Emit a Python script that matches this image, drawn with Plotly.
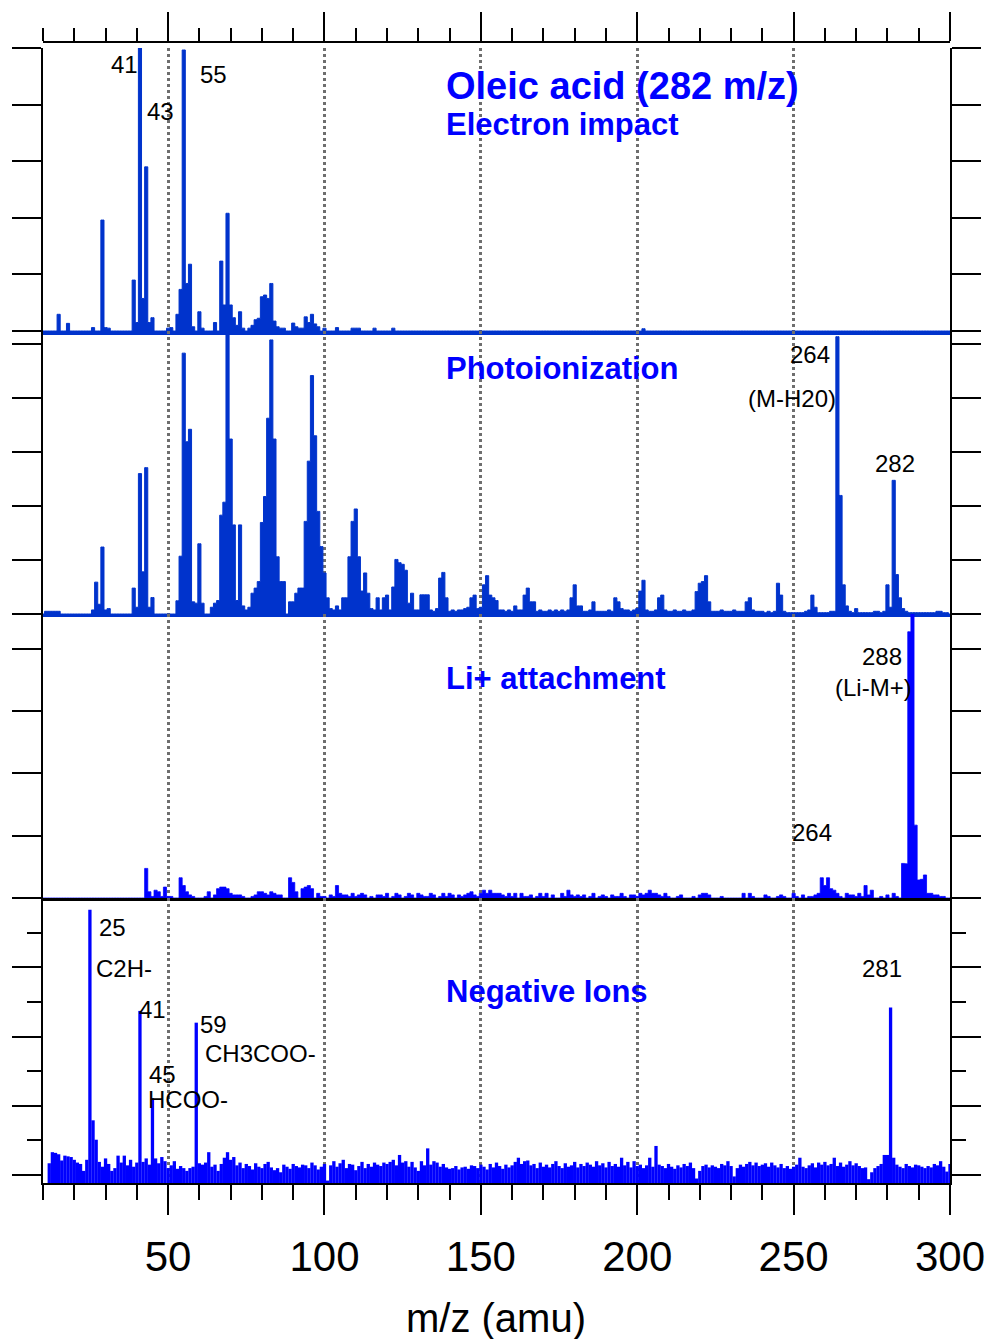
import plotly.graph_objects as go

# ---------------- m/z axis ----------------
MZ_MIN, MZ_MAX = 10, 300

# ---------------- Electron impact ----------------
ei_mz = [15, 18, 26, 29, 30, 31, 39, 40, 41, 42,
         43, 44, 45, 50, 51, 53, 54, 55, 56, 57,
         58, 60, 61, 65, 67, 68, 69, 70, 71, 72,
         73, 74, 76, 77, 78, 79, 80, 81, 82, 83,
         84, 85, 86, 87, 90, 91, 92, 93, 94, 95,
         96, 97, 98, 100, 104, 109, 110, 111, 116, 122,
         202]
ei_int = [5.9, 2.7, 1.2, 39.2, 1.2, 1.0, 18.0, 3.0, 100.0, 11.5,
          58.0, 3.0, 4.7, 1.0, 1.2, 5.9, 14.7, 99.3, 16.8, 23.6,
          1.5, 6.8, 1.0, 3.0, 24.7, 9.2, 41.6, 9.2, 4.7, 2.0,
          6.8, 1.0, 1.0, 2.0, 4.0, 4.5, 12.1, 12.7, 11.5, 16.8,
          3.5, 1.5, 1.0, 1.0, 2.8, 1.5, 1.0, 1.0, 5.0, 3.0,
          5.9, 2.5, 1.5, 1.0, 1.2, 1.0, 1.0, 1.0, 1.0, 1.0,
          0.8]

# ---------------- Photoionization ----------------
pi_mz = [11, 12, 13, 14, 15, 26, 27, 28, 29, 30,
         31, 39, 40, 41, 42, 43, 44, 45, 53, 54,
         55, 56, 57, 58, 59, 60, 61, 64, 65, 66,
         67, 68, 69, 70, 71, 72, 73, 74, 75, 76,
         77, 78, 79, 80, 81, 82, 83, 84, 85, 86,
         87, 89, 90, 91, 92, 93, 94, 95, 96, 97,
         98, 99, 100, 101, 104, 106, 107, 108, 109, 110,
         111, 112, 113, 114, 117, 119, 120, 122, 123, 124,
         125, 126, 127, 128, 131, 132, 133, 137, 138, 139,
         147, 148, 151, 152, 153, 154, 155, 161, 164, 165,
         166, 167, 179, 180, 181, 182, 186, 193, 194, 201,
         202, 207, 208, 219, 220, 221, 222, 223, 235, 236,
         245, 246, 256, 257, 264, 265, 266, 267, 270, 280,
         281, 282, 283, 284, 285, 296]
pi_int = [1.0, 1.0, 1.0, 1.0, 1.0, 1.5, 11.8, 3.6, 24.8, 1.5,
          2.0, 9.6, 2.5, 52.0, 15.6, 54.2, 2.5, 6.1, 4.9, 21.4,
          96.6, 63.8, 68.4, 4.5, 4.0, 26.0, 4.0, 2.5, 4.0, 5.0,
          36.6, 41.4, 108.0, 64.8, 33.0, 5.0, 33.0, 3.0, 1.5, 2.5,
          7.7, 9.6, 12.0, 33.9, 43.5, 72.5, 101.5, 64.8, 21.2, 12.0,
          12.0, 4.5, 4.5, 7.7, 9.6, 9.6, 34.3, 56.6, 88.3, 66.0,
          38.0, 25.0, 15.2, 6.0, 3.0, 6.0, 6.0, 21.2, 34.3, 38.9,
          21.2, 8.5, 15.2, 7.7, 6.0, 6.0, 7.0, 10.0, 20.2, 19.0,
          18.4, 16.2, 4.0, 7.7, 7.1, 7.1, 7.1, 13.3, 15.4, 6.0,
          6.0, 7.0, 10.8, 14.2, 7.0, 6.0, 5.0, 3.0, 7.0, 9.6,
          4.5, 4.5, 6.0, 10.8, 3.0, 3.0, 4.5, 6.0, 4.5, 8.5,
          12.5, 6.0, 7.0, 8.3, 11.4, 12.0, 14.2, 4.5, 4.5, 6.0,
          11.4, 7.0, 7.0, 2.5, 102.7, 43.9, 10.8, 3.0, 2.0, 10.8,
          2.5, 49.5, 14.6, 6.0, 2.0, 1.0]
PI_FLOOR_START = 100
pi_floor = [3, 2.5, 2, 1.5, 2, 1.5, 3, 3, 2.5, 2.5,           # 100
            2, 2.5, 2, 2, 1.5, 2, 1.5, 2, 1.5, 2,             # 110
            2.5, 1.5, 2, 2.5, 2, 1.5, 2, 1.5, 2, 1.5,         # 120
            1.5, 2, 2.5, 2, 1.5, 1, 2, 2.5, 2, 1.5,           # 130
            1, 1.5, 1, 1.5, 1.5, 2, 2.5, 2, 2.5, 2,           # 140
            2.5, 3, 2.5, 3, 2.5, 2, 1.5, 1.5, 1, 1.5,         # 150
            1, 2.5, 1.5, 1.5, 2, 2.5, 2, 1.5, 1, 1.5,         # 160
            1, 1, 1.5, 1, 1.5, 1, 1.5, 1, 1.5, 1.5,           # 170
            2, 2.5, 1.5, 1, 1, 1.5, 2, 1, 1, 1,               # 180
            1, 1.5, 1, 1.5, 2, 2, 1.5, 1.5, 1, 1.5,           # 190
            2, 2, 2.5, 1.5, 1, 1, 1.5, 2, 2, 1.5,             # 200
            1, 1, 1.5, 1, 1, 1.5, 1, 1, 1.5, 2,               # 210
            2.5, 2.5, 2, 1.5, 1, 1, 1, 1.5, 1, 1,             # 220
            1, 1.5, 1, 1, 1, 1.5, 2, 1.5, 1, 1,               # 230
            1, 0.5, 1, 0.5, 1, 1.5, 1.5, 1, 0.5, 0.5,         # 240
            0.5, 0.5, 0.5, 0.5, 1, 1.5, 1.5, 1, 0.5, 0.5,     # 250
            0.5, 0.5, 1, 1, 0, 0, 1.5, 1.5, 1, 0.5,           # 260
            1, 0.5, 0.5, 0.5, 0.5, 0.5, 1, 1, 0.5, 1,         # 270
            0, 1, 0, 0, 0, 1.5, 1, 0.5, 0.5, 0.5,             # 280
            0.5, 0.5, 0.5, 0.5, 0.5, 0.5, 0.5, 1, 0.5, 0.5,   # 290
            0]                                                # 300

# ---------------- Li+ attachment ----------------
li_mz = [43, 44, 46, 47, 49, 54, 55, 56, 63, 66,
         67, 68, 69, 79, 80, 81, 83, 89, 90, 91,
         93, 94, 95, 96, 104, 259, 260, 261, 262, 263,
         273, 275, 282, 285, 286, 287, 288, 289, 290, 291,
         292, 293, 294, 295]
li_int = [9.5, 2.0, 2.5, 2.0, 3.5, 6.5, 4.0, 2.0, 2.0, 3.0,
          3.5, 3.5, 3.0, 2.0, 2.0, 1.5, 2.0, 6.5, 5.0, 2.0,
          3.0, 3.5, 4.0, 3.0, 4.0, 6.5, 4.0, 6.5, 3.0, 2.5,
          4.0, 2.5, 1.5, 11.1, 11.0, 85.5, 100.0, 23.4, 5.8, 6.0,
          7.4, 1.5, 1.5, 1.0]
LI_FLOOR_START = 40
li_floor = [0, 0, 0, 0, 0, 0.5, 0, 0, 0.5, 0,                 # 40
            0.5, 0.5, 0, 0, 0, 0, 0, 1, 0.5, 0,               # 50
            0, 0, 0.5, 0, 0, 1, 0, 0, 0, 0,                   # 60
            1.5, 1, 1, 1, 0.5, 0, 0, 0.5, 1, 0,               # 70
            0, 0.5, 1, 0, 1.5, 1, 1, 0, 0, 0,                 # 80
            0, 0, 0, 2, 1.5, 0, 0, 0, 1.5, 0.5,               # 90
            0.5, 0, 1, 0.5, 0, 1.5, 1, 1, 0.5, 1.5,           # 100
            0.5, 1, 1.5, 1, 0, 0.5, 0, 1, 1, 0.5,             # 110
            1.5, 0, 0.5, 1.5, 1, 0, 0.5, 1.5, 1, 0,           # 120
            1.5, 1, 0.5, 0.5, 1.5, 1, 0, 0.5, 1.5, 0.5,       # 130
            1.5, 1, 0, 1, 0.5, 1, 1.5, 2, 1, 0.5,             # 140
            1.5, 2.5, 1.5, 2.5, 1.5, 1.5, 1.5, 1, 0.5, 1.5,   # 150
            0.5, 1.5, 0, 1.5, 0.5, 0.5, 1, 0, 0.5, 1.5,       # 160
            0.5, 1.5, 0, 1, 0, 0, 1.5, 0.5, 2.5, 1,           # 170
            0.5, 1, 0.5, 1, 0, 0.5, 1.5, 0, 0.5, 1,           # 180
            0.5, 0, 1, 0.5, 0.5, 1.5, 0.5, 0, 1, 1,           # 190
            0.5, 1.5, 1, 1.5, 2.5, 1.5, 1.5, 1, 0.5, 1.5,     # 200
            0.5, 0, 0, 0.5, 1, 0, 0, 0, 0.5, 0,               # 210
            1, 1.5, 1.5, 1, 0, 0, 0, 0.5, 0, 0,               # 220
            0, 0, 0, 0, 1.5, 0, 1.5, 0.5, 0, 0,               # 230
            0, 1, 0.5, 0, 0, 0.5, 1, 0.5, 0, 0,               # 240
            1.5, 0.5, 0, 1, 0, 0.5, 0.5, 1, 1.5, 0,           # 250
            0, 0, 0, 0, 1.5, 0.5, 0, 1.5, 1, 1,               # 260
            0.5, 1.5, 0.5, 0, 1, 0, 0, 0, 0.5, 0,             # 270
            1, 0, 1, 0.5, 0, 0, 0, 0, 0, 0,                   # 280
            0, 0, 0, 0, 0, 0.5, 1, 0.5, 0.5, 0,               # 290
            0]                                                # 300

# ---------------- Negative ions ----------------
neg_mz = [25, 26, 27, 41, 45, 59, 133, 206, 280, 281, 282]
neg_int = [38.3, 7.9, 5.1, 23.7, 11.1, 22.0, 3.85, 4.2, 2.9, 24.2, 2.5]
NEG_FLOOR_START = 12
neg_floor = [1.7, 3.3, 3.2, 3.0, 2.1, 2.8, 2.7, 2.6, 2.2, 1.8,      # 12
             1.6, 0.6, 2.2, 2.0, 2.5, 1.8, 1.9, 1.2, 2.4, 1.6,      # 22
             0.6, 1.0, 2.8, 1.8, 2.8, 1.4, 2.2, 1.2, 1.8, 1.4,      # 32
             1.9, 2.4, 1.5, 2.0, 2.4, 1.7, 2.6, 2.0, 1.0, 1.4,      # 42
             2.0, 0.9, 1.3, 1.0, 0.6, 1.0, 1.2, 1.4, 1.7, 1.5,      # 52
             1.8, 3.3, 1.2, 1.5, 0.6, 1.6, 2.5, 3.3, 2.2, 2.6,      # 62
             1.4, 1.8, 1.0, 1.6, 1.3, 0.8, 1.7, 1.2, 1.0, 1.6,      # 72
             1.9, 1.1, 0.7, 1.0, 0.4, 1.5, 1.2, 0.9, 1.6, 1.3,      # 82
             1.1, 1.5, 1.4, 1.0, 1.8, 1.4, 0.8, 1.2, 1.6, -0.8,     # 92
             1.4, 2.0, 1.2, 1.7, 2.2, 1.0, 1.6, 1.5, 0.7, 1.3,      # 102
             1.9, 1.0, 1.6, 1.2, 1.8, 1.5, 1.3, 1.8, 1.6, 1.9,      # 112
             2.2, 1.4, 2.9, 1.8, 2.0, 1.2, 1.9, 1.1, 0.6, 2.0,      # 122
             1.4, 1.6, 1.5, 2.0, 1.8, 1.2, 1.6, 1.1, 0.9, 1.0,      # 132
             1.3, 0.8, 1.1, 1.2, 0.9, 1.4, 1.3, 1.0, 1.5, 1.2,      # 142
             0.8, 1.6, 1.1, 1.8, 1.3, 0.9, 1.5, 1.1, 1.4, 1.9,      # 152
             2.5, 1.6, 2.0, 2.1, 1.4, 1.6, 1.0, 1.8, 1.2, 1.5,      # 162
             1.1, 1.6, 2.0, 1.3, 1.0, 1.7, 1.2, 1.4, 1.9, 1.1,      # 172
             1.6, 1.3, 1.8, 1.5, 1.2, 2.0, 1.4, 1.7, 1.1, 1.9,      # 182
             1.3, 1.6, 1.2, 2.5, 1.4, 1.9, 1.1, 2.0, 1.3, 1.5,      # 192
             1.0, 1.4, 2.5, 1.2, 1.6, 1.5, 1.3, 1.0, 1.6, 1.2,      # 202
             0.9, 1.4, 1.1, 1.6, 1.3, 1.8, 1.0, -0.5, 0.6, 1.3,     # 212
             1.5, 1.1, 1.4, 1.2, 1.0, 1.6, 1.4, 2.0, 1.3, -0.2,     # 222
             1.0, 1.5, 1.2, 1.6, 1.9, 1.4, 1.8, 1.3, 1.5, 1.7,      # 232
             1.2, 1.8, 1.4, 1.1, 1.6, 1.0, 1.3, 0.9, 1.2, 1.5,      # 242
             2.5, 1.2, 1.0, 1.4, 1.7, 1.1, 1.8, 1.5, 1.9, 1.4,      # 252
             1.6, 2.5, 1.3, 1.8, 1.2, 1.5, 2.0, 1.4, 1.7, 1.3,      # 262
             1.0, 1.1, -0.6, 0.4, 1.0, 1.3, 1.6, 2.9, 1.5, 1.0,     # 272
             1.8, 1.5, 1.2, 1.0, 1.6, 1.3, 1.1, 1.5, 1.4, 1.2,      # 282
             1.0, 1.3, 1.1, 1.6, 1.4, 2.0, 1.2, 0.5, 1.6]           # 292

# axis ranges of the four panels
EI_RANGE = [0, 100]
PI_RANGE = [0, 104.8]
LI_RANGE = [0, 91.2]
NEG_RANGE = [-1.15, 40]

# ---------------- page geometry ----------------
W, H = 991, 1339
ML, MR, MT, MB = 43, 41, 42, 156


def px(x):
    return (x - ML) / (W - ML - MR)


def py(y):
    return (H - MB - y) / (H - MT - MB)


def spectrum(peak_mz, peak_int, floor=None, floor_start=None, lo=MZ_MIN, hi=MZ_MAX):
    """Unit-mass profile: floor level overlaid with the listed peaks."""
    assert len(peak_mz) == len(peak_int)
    vals = {mz: 0.0 for mz in range(lo, hi + 1)}
    if floor:
        for i, v in enumerate(floor):
            vals[floor_start + i] = v
    for mz, v in zip(peak_mz, peak_int):
        vals[mz] = max(v, vals[mz])
    ms = sorted(vals)
    return ms, [vals[mz] for mz in ms]


EI_BLUE = '#0033CC'
BLUE = '#0000FF'
FONT = 'Liberation Sans, Arial, sans-serif'

fig = go.Figure()


def add_profile(ms, vs, xa, ya, color, lw=0.8):
    fig.add_trace(go.Scatter(x=ms, y=vs, xaxis=xa, yaxis=ya, mode='lines',
                             line=dict(color=color, width=lw, shape='hvh'),
                             fill='tozeroy', fillcolor=color,
                             showlegend=False, hoverinfo='skip'))


m, v = spectrum(ei_mz, ei_int)
add_profile(m, v, 'x', 'y', EI_BLUE, 1.0)
m, v = spectrum(pi_mz, pi_int, pi_floor, PI_FLOOR_START)
add_profile(m, v, 'x2', 'y2', EI_BLUE, 1.0)
m, v = spectrum(li_mz, li_int, li_floor, LI_FLOOR_START)
add_profile(m, v, 'x3', 'y3', BLUE, 0.8)

# negative-ion noise is filled down to the bottom of its axis
m, v = spectrum(neg_mz, neg_int, neg_floor, NEG_FLOOR_START, lo=NEG_FLOOR_START)
fig.add_trace(go.Bar(x=m, y=[val - NEG_RANGE[0] for val in v], base=NEG_RANGE[0],
                     xaxis='x4', yaxis='y4', width=1.06,
                     marker=dict(color=BLUE, line=dict(width=0)),
                     showlegend=False, hoverinfo='skip'))

# carrier for the top tick axis
fig.add_trace(go.Scatter(x=[MZ_MIN, MZ_MAX], y=[None, None], xaxis='x5', yaxis='y',
                         mode='lines', showlegend=False, hoverinfo='skip'))

grid = dict(showgrid=True, gridcolor='#6e6e6e', griddash='3px,3px', gridwidth=2.5)
xcommon = dict(range=[MZ_MIN, MZ_MAX], tick0=0, dtick=50, zeroline=False,
               domain=[0, 1], automargin=False, **grid)
ycommon = dict(showline=True, linecolor='black', linewidth=2, mirror='ticks',
               ticks='outside', ticklen=29, tickwidth=2, tickcolor='black',
               showticklabels=False, showgrid=False, zeroline=False, tick0=0,
               automargin=False)

layout = dict(
    width=W, height=H,
    margin=dict(l=ML, r=MR, t=MT, b=MB, autoexpand=False),
    paper_bgcolor='white', plot_bgcolor='white',
    showlegend=False, barmode='overlay',
    font=dict(family=FONT, color='black'),
    xaxis=dict(anchor='y', showline=True, linecolor=EI_BLUE, linewidth=3.5,
               ticks='', showticklabels=False, **xcommon),
    xaxis2=dict(anchor='y2', showline=True, linecolor=EI_BLUE, linewidth=2.5,
                ticks='', showticklabels=False, **xcommon),
    xaxis3=dict(anchor='y3', showline=True, linecolor='black', linewidth=2.5,
                ticks='', showticklabels=False, **xcommon),
    xaxis4=dict(anchor='y4', showline=True, linecolor='black', linewidth=2,
                ticks='outside', ticklen=30, tickwidth=2, tickcolor='black',
                showticklabels=True, tickfont=dict(size=42, family=FONT),
                ticklabelstandoff=6,
                minor=dict(ticks='outside', dtick=10, tick0=0, ticklen=15,
                           tickwidth=2, tickcolor='black', showgrid=False),
                **xcommon),
    xaxis5=dict(overlaying='x', anchor='free', position=1.0, side='top',
                range=[MZ_MIN, MZ_MAX], tick0=0, dtick=50, showline=True,
                linecolor='black', linewidth=2, ticks='outside', ticklen=29,
                tickwidth=2, tickcolor='black', showticklabels=False,
                showgrid=False, zeroline=False, automargin=False,
                minor=dict(ticks='outside', dtick=10, tick0=0, ticklen=13,
                           tickwidth=2, tickcolor='black')),
    yaxis=dict(anchor='x', domain=[py(331), py(48)], range=EI_RANGE, dtick=20, **ycommon),
    yaxis2=dict(anchor='x2', domain=[py(614), py(331)], range=PI_RANGE, dtick=20, **ycommon),
    yaxis3=dict(anchor='x3', domain=[py(898), py(614)], range=LI_RANGE, dtick=20, **ycommon),
    yaxis4=dict(anchor='x4', domain=[0, py(898)], range=NEG_RANGE, dtick=10,
                minor=dict(ticks='outside', dtick=5, tick0=0, ticklen=14,
                           tickwidth=2, tickcolor='black'),
                **ycommon),
)
fig.update_layout(**layout)

# peak labels (black)
peak_labels = [
    ('41', 124, 64), ('43', 160, 112), ('55', 213, 74),
    ('264', 810, 354), ('(M-H20)', 792, 399), ('282', 895, 464),
    ('288', 882, 656), ('(Li-M+)', 873, 687), ('264', 812, 832),
    ('25', 112, 927), ('C2H-', 124, 968), ('41', 152, 1009),
    ('45', 162, 1074), ('HCOO-', 188, 1099), ('59', 213, 1024),
    ('CH3COO-', 260, 1053), ('281', 882, 968),
]
for text, x, y in peak_labels:
    fig.add_annotation(text=text, x=px(x), y=py(y), xref='paper', yref='paper',
                       xanchor='center', yanchor='middle', showarrow=False,
                       borderpad=0,
                       font=dict(size=24, family=FONT, color='black'))

# panel titles (blue, bold)
titles = [
    ('Oleic acid (282 m/z)', 86, 38),
    ('Electron impact', 125, 31),
    ('Photoionization', 368, 31),
    ('Li+ attachment', 678, 31),
    ('Negative Ions', 991, 31),
]
for text, y, size in titles:
    fig.add_annotation(text=text, x=px(444), y=py(y), xref='paper', yref='paper',
                       xanchor='left', yanchor='middle', showarrow=False,
                       font=dict(size=size, family=FONT, color=BLUE, weight='bold'))

# x-axis title
fig.add_annotation(text='m/z (amu)', x=px(496), y=py(1318), xref='paper', yref='paper',
                   xanchor='center', yanchor='middle', showarrow=False,
                   font=dict(size=40, family=FONT, color='black'))

fig.write_html('out.html')
